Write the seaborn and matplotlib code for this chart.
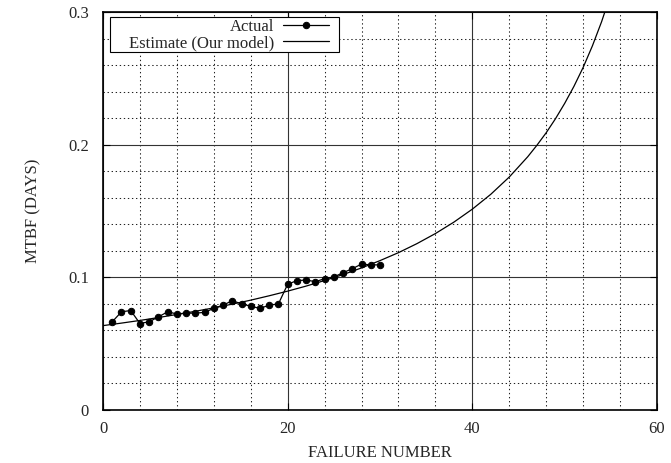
import matplotlib
matplotlib.use("Agg")
import matplotlib.pyplot as plt
import seaborn as sns
import pandas as pd
from matplotlib.ticker import MultipleLocator
from matplotlib.patches import Rectangle

# ---- data ----
failure_number = list(range(1, 31))
actual_mtbf = [0.0665, 0.0740, 0.0750, 0.0652, 0.0665, 0.0702, 0.0740, 0.0724,
               0.0730, 0.0730, 0.0736, 0.0766, 0.0790, 0.0824, 0.0800, 0.0782,
               0.0766, 0.0790, 0.0800, 0.0948, 0.0975, 0.0980, 0.0967, 0.0990,
               0.1003, 0.1035, 0.1065, 0.1100, 0.1094, 0.1094]

estimate_x = [0, 2, 4, 6, 8, 10, 12, 14, 16, 18, 20, 22, 24, 26, 28, 30, 32, 34,
              36, 38, 40, 42, 44, 46, 47, 48, 49, 50, 51, 52, 53, 54, 55]
estimate_mtbf = [0.0636, 0.0655, 0.0675, 0.0697, 0.0720, 0.0744, 0.0770, 0.0798,
                 0.0828, 0.0861, 0.0896, 0.0934, 0.0976, 0.1021, 0.1071, 0.1126,
                 0.1186, 0.1254, 0.1330, 0.1416, 0.1514, 0.1626, 0.1756, 0.1909,
                 0.1996, 0.2090, 0.2195, 0.2311, 0.2439, 0.2582, 0.2744, 0.2927,
                 0.3136]

x_ticks = [0, 20, 40, 60]
y_ticks = [0, 0.1, 0.2, 0.3]
y_tick_labels = ["0", "0.1", "0.2", "0.3"]

sns.set_theme(style="ticks")
plt.rcParams["font.family"] = ["Liberation Serif", "DejaVu Serif"]

actual_df = pd.DataFrame({"x": failure_number, "y": actual_mtbf})
est_df = pd.DataFrame({"x": estimate_x, "y": estimate_mtbf})

fig = plt.figure(figsize=(6.71, 4.63), dpi=100)
ax = fig.add_axes([103 / 671, 53 / 463, 554 / 671, 398 / 463])

sns.lineplot(data=actual_df, x="x", y="y", ax=ax, color="black", lw=0.9,
             marker="o", markersize=4.6, markeredgecolor="black",
             markerfacecolor="black", label="Actual", zorder=5)
sns.lineplot(data=est_df, x="x", y="y", ax=ax, color="black", lw=0.9,
             label="Estimate (Our model)", zorder=4)

ax.set_xlim(0, 60)
ax.set_ylim(0, 0.3)
ax.set_xticks(x_ticks)
ax.set_yticks(y_ticks)
ax.set_yticklabels(y_tick_labels)
ax.xaxis.set_minor_locator(MultipleLocator(4))
ax.yaxis.set_minor_locator(MultipleLocator(0.02))

ax.grid(which="major", color="#333333", lw=0.8, ls="-")
ax.grid(which="minor", color="#222222", lw=0.75, ls=(0, (1.3, 2.6)))
ax.set_axisbelow(True)

ax.tick_params(which="both", direction="in", top=True, right=True,
               labelsize=12, color="black")
ax.tick_params(which="major", length=5, width=0.8)
ax.tick_params(axis="y", which="major", pad=10)
ax.tick_params(axis="x", which="major", pad=8)
ax.tick_params(which="minor", length=0)
for s in ax.spines.values():
    s.set_color("black")
    s.set_linewidth(1.2)

ax.set_xlabel("FAILURE NUMBER", fontsize=12, labelpad=6)
ax.set_ylabel("MTBF (DAYS)", fontsize=12, labelpad=19)

# legend frame
ax.add_patch(Rectangle((7 / 554, 1 - 39.7 / 398), 229.3 / 554, 35 / 398,
                       transform=ax.transAxes, facecolor="white",
                       edgecolor="black", lw=0.8, zorder=3))

leg = ax.legend(loc="upper right", bbox_to_anchor=(226.3 / 554, 1 - 7 / 398),
                fontsize=12, markerfirst=False, frameon=False,
                handlelength=2.8, handletextpad=0.5, borderpad=0,
                labelspacing=0.0, borderaxespad=0, numpoints=1)
leg.set_zorder(6)

fig.savefig("out.png", dpi=100)
